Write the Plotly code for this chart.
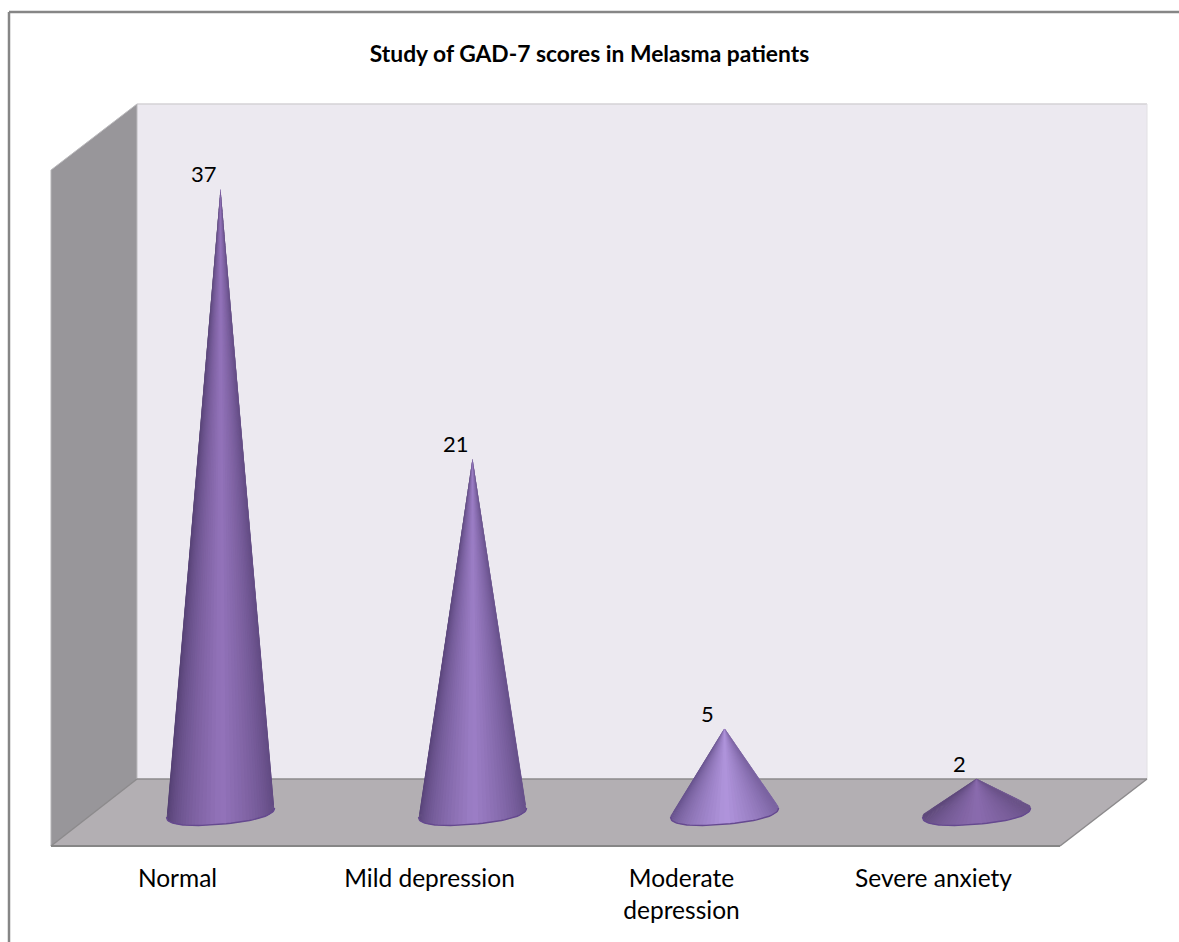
import math
import plotly.graph_objects as go

categories = ["Normal", "Mild depression", "Moderate<br>depression", "Severe anxiety"]
values = [37, 21, 5, 2]
positions = [0, 1, 2, 3]
title = "Study of GAD-7 scores in Melasma patients"

W, H = 1179, 942
# plot rectangle in pixels and scale of the two axes
L, R, T, B = 51, 1060, 104, 846
PX_X, PX_Y = 252.0, 16.86
X0_PX, Y0_PX = 220.5, 812.5
x_range = [(L - X0_PX) / PX_X, (R - X0_PX) / PX_X]
y_range = [(Y0_PX - B) / PX_Y, (Y0_PX - T) / PX_Y]

# cone base (tilted, slightly rounded ellipse), in pixels, converted to axis units
A, BB, TILT = 54.0, 11.7, 4.6
centre_cols = ["#9373ba", "#9c7ec6", "#b094dc", "#8a6bae"]
edge_cols = ["#4e3b6c", "#523e72", "#65508a", "#5d4879"]


def hexrgb(h):
    return [int(h[i:i + 2], 16) for i in (1, 3, 5)]


def mix(a, b, k):
    ca, cb = hexrgb(a), hexrgb(b)
    return "rgb(%d,%d,%d)" % tuple(round(p + (q - p) * k) for p, q in zip(ca, cb))


def rim(pos, t):
    c, s = math.cos(t), math.sin(t)
    c = math.copysign(abs(c) ** 0.85, c)
    s = math.copysign(abs(s) ** 0.85, s)
    dx = A * c
    dy = -BB * s - TILT * c  # pixels, downward positive
    return pos + dx / PX_X, -dy / PX_Y


def shade(pos, p0, p1, ec, cc):
    u = ((p0[0] + p1[0]) / 2 - pos) * PX_X / A
    k = max(0.0, 1 - abs(u - 0.05) / 1.05) ** 0.55
    return mix(ec, cc, k)


fig = go.Figure()
N = 44
for pos, val, cc, ec in zip(positions, values, centre_cols, edge_cols):
    # back half first, then front half over it
    for start in (0.0, -math.pi):
        for i in range(N):
            t0 = start + math.pi * i / N
            t1 = start + math.pi * (i + 1.6) / N
            p0, p1 = rim(pos, t0), rim(pos, t1)
            col = shade(pos, p0, p1, ec, cc)
            fig.add_trace(go.Scatter(x=[pos, p0[0], p1[0], pos], y=[val, p0[1], p1[1], val],
                                     mode="lines", fill="toself", fillcolor=col,
                                     line=dict(color=col, width=0), hoverinfo="skip", showlegend=False))
    arc = [rim(pos, -math.pi + math.pi * i / N) for i in range(N + 1)]
    fig.add_trace(go.Scatter(x=[p[0] for p in arc], y=[p[1] for p in arc], mode="lines",
                             line=dict(color="#65498f", width=1.4), hoverinfo="skip", showlegend=False))


def px(x):
    return (x - L) / (R - L)


def py(y):
    return (B - y) / (B - T)


def poly(points, fill, line=None, width=0):
    path = "M" + " L".join(f"{px(x):.5f},{py(y):.5f}" for x, y in points) + " Z"
    return dict(type="path", xref="paper", yref="paper", path=path, fillcolor=fill,
                line=dict(color=line or fill, width=width), layer="below")


def seg(x0, y0, x1, y1, color, width):
    return dict(type="line", xref="paper", yref="paper", x0=px(x0), y0=py(y0), x1=px(x1), y1=py(y1),
                line=dict(color=color, width=width), layer="below")


shapes = [
    poly([(137, 104), (1147, 104), (1147, 779), (137, 779)], "#ece9f0"),
    poly([(51, 170), (137, 104), (137, 779), (51, 846)], "#98969a"),
    poly([(51, 846), (137, 779), (1147, 779), (1060, 846)], "#b3afb3"),
    seg(137, 104, 1147, 104, "#d4d2d6", 1.5),
    seg(1147, 104, 1147, 779, "#e2e0e4", 1),
    seg(51, 170, 137, 104, "#bcbbbe", 1),
    seg(51, 170, 51, 846, "#b4b3b6", 1),
    seg(137, 104, 137, 779, "#bcbbbe", 1),
    seg(137, 779, 1147, 779, "#8c8a8c", 1.5),
    seg(51, 846, 137, 779, "#8c8a8c", 1.5),
    seg(1147, 779, 1060, 846, "#8c8a8c", 1.5),
    seg(51, 846, 1060, 846, "#868686", 2),
    seg(9, 12, 9, 942, "#868686", 2.5),
    seg(9, 12, 1179, 12, "#868686", 2.5),
]

annotations = [
    dict(x=p, y=v, xref="x", yref="y", text=str(v), showarrow=False, xshift=-17, yshift=15,
         font=dict(family="Lato", size=22, color="#000000"), xanchor="center", yanchor="middle")
    for p, v in zip(positions, values)
]

fig.update_layout(
    width=W, height=H, autosize=False,
    margin=dict(l=L, r=W - R, t=T, b=H - B, pad=0),
    paper_bgcolor="white", plot_bgcolor="rgba(0,0,0,0)",
    showlegend=False,
    title=dict(text=f"<b>{title}</b>", x=589.5 / W, xref="container", xanchor="center",
               y=1 - 54 / H, yref="container", yanchor="middle",
               font=dict(family="Lato", size=22.8, color="#000000")),
    shapes=shapes,
    annotations=annotations,
    xaxis=dict(range=x_range, tickmode="array", tickvals=[p - 43 / PX_X for p in positions],
               ticktext=categories, tickangle=0, showgrid=False, zeroline=False, showline=False,
               ticks="outside", ticklen=11, tickcolor="rgba(0,0,0,0)",
               tickfont=dict(family="Lato", size=24.5, color="#000000"), fixedrange=True),
    yaxis=dict(range=y_range, visible=False, fixedrange=True),
)

fig.write_html("out.html", config={"displayModeBar": False},
               post_script="document.body.style.margin='0';document.documentElement.style.overflow='hidden';")
